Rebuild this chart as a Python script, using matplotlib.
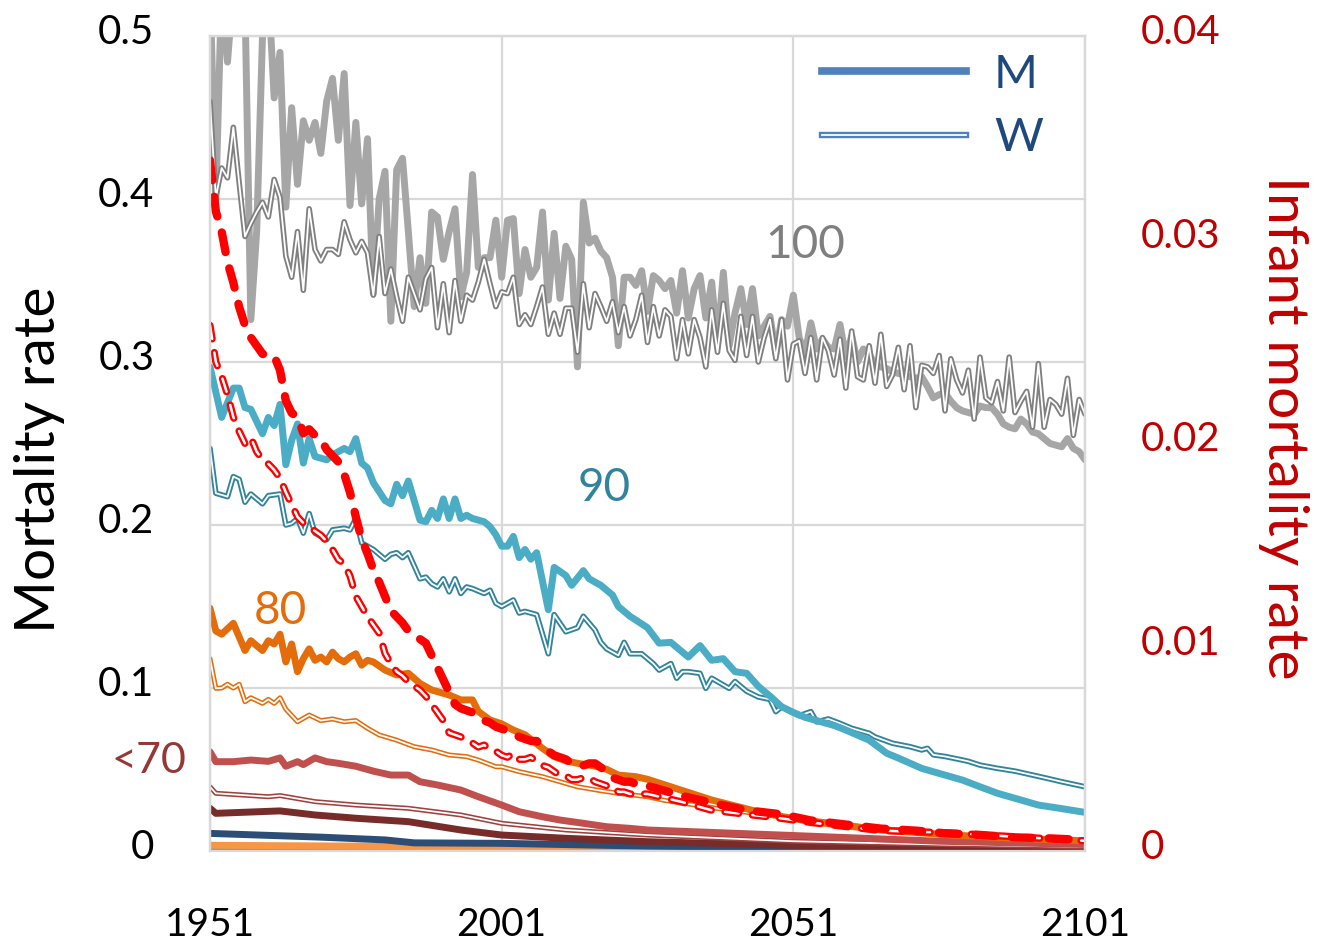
import numpy as np
import matplotlib
matplotlib.use("Agg")
import matplotlib.pyplot as plt
import matplotlib.patheffects as pe
import matplotlib.transforms as mtransforms
from matplotlib.lines import Line2D

plt.rcParams["font.family"] = ["Lato", "DejaVu Sans"]

# ---- age 100 (yearly, 1951..2101) ----
m100 = [0.53, 0.40, 0.53, 0.484, 0.53, 0.53, 0.52, 0.326, 0.38, 0.50,
        0.53, 0.462, 0.49, 0.395, 0.456, 0.409, 0.448, 0.436, 0.447, 0.428,
        0.46, 0.474, 0.436, 0.477, 0.396, 0.447, 0.397, 0.437, 0.342, 0.40,
        0.417, 0.325, 0.418, 0.425, 0.38, 0.334, 0.364, 0.336, 0.392, 0.389,
        0.363, 0.38, 0.394, 0.340, 0.355, 0.415, 0.358, 0.364, 0.364, 0.387,
        0.352, 0.387, 0.388, 0.342, 0.369, 0.352, 0.358, 0.392, 0.338, 0.379,
        0.339, 0.371, 0.363, 0.297, 0.398, 0.373, 0.376, 0.368, 0.364, 0.352,
        0.310, 0.352, 0.352, 0.347, 0.356, 0.331,
        0.353, 0.35, 0.345, 0.35, 0.33, 0.356, 0.327, 0.345, 0.353, 0.327,
        0.349, 0.311, 0.355, 0.310, 0.33, 0.345, 0.323, 0.345, 0.316, 0.322,
        0.328, 0.305, 0.326, 0.322, 0.341, 0.315, 0.305, 0.324, 0.308, 0.314,
        0.309, 0.308, 0.323, 0.303, 0.316, 0.300, 0.308, 0.305, 0.298, 0.297,
        0.296, 0.294, 0.293, 0.292, 0.291, 0.290, 0.291, 0.285, 0.278, 0.28,
        0.281, 0.276, 0.272, 0.270, 0.269, 0.268, 0.273, 0.272, 0.272, 0.268,
        0.262, 0.260, 0.259, 0.265, 0.262, 0.257, 0.256, 0.253, 0.250, 0.249,
        0.248, 0.253, 0.247, 0.245, 0.240]
w100 = [0.460, 0.401, 0.419, 0.413, 0.444, 0.41, 0.377, 0.385, 0.392, 0.398,
        0.389, 0.412, 0.401, 0.365, 0.352, 0.380, 0.344, 0.394, 0.369, 0.362,
        0.369, 0.369, 0.366, 0.386, 0.375, 0.367, 0.374, 0.367, 0.341, 0.377,
        0.342, 0.357, 0.340, 0.325, 0.352, 0.342, 0.332, 0.351, 0.358, 0.321,
        0.348, 0.318, 0.350, 0.325, 0.341, 0.338, 0.349, 0.363, 0.348, 0.334,
        0.343, 0.342, 0.352, 0.323, 0.329, 0.323, 0.334, 0.346, 0.317, 0.330,
        0.317, 0.333, 0.333, 0.306, 0.348, 0.321, 0.342, 0.334, 0.325, 0.337,
        0.318, 0.334, 0.316, 0.326, 0.341, 0.312,
        0.334, 0.316, 0.332, 0.328, 0.302, 0.326, 0.305, 0.326, 0.315, 0.297,
        0.332, 0.306, 0.336, 0.307, 0.301, 0.328, 0.304, 0.328, 0.300, 0.315,
        0.326, 0.302, 0.326, 0.289, 0.311, 0.313, 0.293, 0.315, 0.289, 0.315,
        0.307, 0.292, 0.314, 0.284, 0.319, 0.291, 0.289, 0.310, 0.287, 0.317,
        0.285, 0.292, 0.309, 0.283, 0.310, 0.272, 0.298, 0.297, 0.293, 0.304,
        0.270, 0.302, 0.289, 0.281, 0.295, 0.265, 0.303, 0.278, 0.275, 0.288,
        0.270, 0.303, 0.269, 0.276, 0.282, 0.260, 0.299, 0.260, 0.277, 0.274,
        0.268, 0.290, 0.255, 0.277, 0.268]

# ---- age 90 ----
m90_years = [1951, 1953, 1954, 1955, 1956, 1957, 1958, 1960, 1961, 1962, 1963, 1964, 1965,
             1966, 1967, 1968, 1969, 1971, 1972, 1974, 1975, 1976, 1977, 1978, 1979, 1981,
             1982, 1983, 1984, 1985, 1987, 1988, 1989, 1990, 1991, 1992, 1993, 1994, 1995,
             1996, 1998, 1999, 2000, 2001, 2002, 2003, 2004, 2005, 2006, 2007, 2009, 2010,
             2012, 2013, 2015, 2016, 2018, 2020, 2021, 2023, 2026, 2028, 2030, 2032, 2033,
             2035, 2037, 2039, 2041, 2043, 2045, 2047, 2049, 2051, 2053, 2056, 2058, 2060,
             2064, 2067, 2069, 2073, 2076, 2080, 2083, 2086, 2090, 2093, 2097, 2101]
m90 = [0.297, 0.266, 0.275, 0.284, 0.284, 0.272, 0.271, 0.256, 0.266, 0.261, 0.274, 0.237, 0.252,
       0.262, 0.238, 0.253, 0.242, 0.240, 0.243, 0.247, 0.245, 0.253, 0.238, 0.235, 0.226, 0.215,
       0.213, 0.225, 0.218, 0.227, 0.203, 0.202, 0.209, 0.204, 0.216, 0.204, 0.216, 0.204, 0.206,
       0.204, 0.202, 0.199, 0.194, 0.187, 0.187, 0.193, 0.180, 0.185, 0.179, 0.183, 0.148, 0.174,
       0.169, 0.163, 0.172, 0.167, 0.163, 0.157, 0.150, 0.144, 0.137, 0.1275, 0.128, 0.122, 0.119,
       0.126, 0.117, 0.118, 0.110, 0.109, 0.101, 0.095, 0.0885, 0.085, 0.082, 0.079, 0.077, 0.0742,
       0.068, 0.060, 0.057, 0.0507, 0.0476, 0.0435, 0.0394, 0.0354, 0.0313, 0.0282, 0.026, 0.0237]
w90_years = [1951, 1952, 1954, 1955, 1956, 1957, 1958, 1960, 1961, 1963, 1964, 1965, 1966,
             1967, 1968, 1969, 1971, 1972, 1974, 1975, 1976, 1977, 1979, 1981, 1982, 1983,
             1984, 1985, 1987, 1988, 1989, 1990, 1991, 1992, 1993, 1994, 1995, 1996, 1998,
             1999, 2000, 2001, 2003, 2004, 2005, 2007, 2009, 2010, 2012, 2014, 2015, 2017,
             2018, 2019, 2021, 2022, 2023, 2025, 2027, 2028, 2030, 2031, 2032, 2033, 2035,
             2036, 2037, 2040, 2041, 2043, 2045, 2047, 2048, 2049, 2051, 2052, 2054, 2055,
             2057, 2059, 2061, 2064, 2065, 2068, 2071, 2073, 2074, 2075, 2077, 2080, 2081,
             2083, 2086, 2089, 2092, 2094, 2097, 2101]
w90 = [0.247, 0.2195, 0.2174, 0.2297, 0.228, 0.214, 0.219, 0.213, 0.218, 0.219, 0.200, 0.201, 0.204,
       0.195, 0.207, 0.195, 0.191, 0.197, 0.198, 0.197, 0.204, 0.189, 0.185, 0.179, 0.182, 0.183,
       0.180, 0.183, 0.167, 0.168, 0.164, 0.162, 0.167, 0.159, 0.167, 0.158, 0.162, 0.161, 0.158,
       0.160, 0.152, 0.150, 0.154, 0.146, 0.147, 0.145, 0.121, 0.145, 0.1345, 0.137, 0.144, 0.1356,
       0.128, 0.124, 0.120, 0.128, 0.121, 0.121, 0.115, 0.111, 0.115, 0.106, 0.110, 0.110, 0.109,
       0.0998, 0.106, 0.0998, 0.104, 0.098, 0.0945, 0.093, 0.0855, 0.0885, 0.0847, 0.083, 0.0855, 0.0792,
       0.081, 0.0783, 0.0753, 0.0722, 0.070, 0.0661, 0.064, 0.062, 0.063, 0.059, 0.058, 0.0558, 0.055,
       0.0527, 0.0507, 0.049, 0.0466, 0.045, 0.0425, 0.0394]

# ---- age 80 ----
m80_years = [1951, 1952, 1953, 1955, 1957, 1958, 1960, 1961, 1962, 1963, 1964, 1965, 1966,
             1967, 1968, 1969, 1970, 1971, 1972, 1973, 1974, 1975, 1976, 1977, 1978, 1979,
             1981, 1983, 1985, 1987, 1989, 1992, 1994, 1996, 1997, 1999, 2001, 2003, 2005,
             2008, 2010, 2012, 2014, 2017, 2019, 2021, 2024, 2026, 2037, 2046, 2054, 2066,
             2078, 2089, 2101]
m80 = [0.149, 0.135, 0.133, 0.1397, 0.123, 0.129, 0.123, 0.129, 0.127, 0.133, 0.116, 0.127, 0.110,
       0.118, 0.124, 0.117, 0.119, 0.116, 0.122, 0.118, 0.116, 0.119, 0.121, 0.114, 0.117, 0.116,
       0.111, 0.108, 0.109, 0.1028, 0.0988, 0.0957, 0.0927, 0.0927, 0.0856, 0.0804, 0.078, 0.0742, 0.0713,
       0.063, 0.0579, 0.0553, 0.0538, 0.0521, 0.0501, 0.0466, 0.0456, 0.0440, 0.0313, 0.0231, 0.018, 0.0129,
       0.0098, 0.0078, 0.0063]
w80_years = [1951, 1952, 1953, 1954, 1955, 1956, 1957, 1958, 1960, 1961, 1962, 1963, 1964,
             1966, 1968, 1970, 1972, 1974, 1976, 1978, 1980, 1983, 1986, 1989, 1992, 1995,
             1997, 2000, 2001, 2004, 2008, 2011, 2014, 2018, 2021, 2026, 2029, 2040, 2052,
             2063, 2075, 2086, 2101]
w80 = [0.118, 0.0998, 0.100, 0.1023, 0.100, 0.1023, 0.0916, 0.094, 0.0906, 0.093, 0.0906, 0.094, 0.087,
       0.0793, 0.0834, 0.080, 0.081, 0.0793, 0.080, 0.0753, 0.0712, 0.068, 0.0640, 0.062, 0.0589, 0.0579,
       0.0558, 0.0517, 0.0517, 0.0487, 0.0456, 0.0425, 0.0394, 0.0370, 0.0354, 0.0333, 0.031, 0.025, 0.020,
       0.0149, 0.0108, 0.0084, 0.0067]

# ---- under 70 and younger groups ----
m70_years = [1951, 1952, 1955, 1958, 1961, 1963, 1964, 1966, 1967, 1969, 1971, 1973, 1976,
             1979, 1982, 1985, 1987, 1990, 1994, 1997, 2001, 2004, 2008, 2011, 2015, 2019,
             2023, 2026, 2051, 2076, 2101]
m70 = [0.0609, 0.0548, 0.0548, 0.0558, 0.0550, 0.0571, 0.052, 0.0548, 0.053, 0.0571, 0.0548, 0.0538, 0.052,
       0.049, 0.0466, 0.0466, 0.0425, 0.0405, 0.0374, 0.0333, 0.0282, 0.0241, 0.021, 0.019, 0.017, 0.0149,
       0.0139, 0.0129, 0.0095, 0.006, 0.004]
w70_years = [1951, 1952, 1961, 1963, 1969, 1976, 1985, 1994, 2001, 2012, 2026, 2051, 2076, 2101]
w70 = [0.0394, 0.0354, 0.0333, 0.034, 0.0303, 0.0282, 0.0262, 0.0221, 0.017, 0.0129, 0.0098, 0.006, 0.004, 0.0025]
m60_years = [1951, 1952, 1963, 1969, 1976, 1985, 1994, 2001, 2012, 2026, 2051, 2076, 2101]
m60 = [0.0262, 0.0231, 0.0246, 0.0221, 0.0201, 0.018, 0.0129, 0.0098, 0.0078, 0.0057, 0.0035, 0.0022, 0.0015]
m50_years = [1951, 1970, 1981, 1986, 2001, 2026, 2051, 2101]
m50 = [0.0108, 0.0085, 0.0068, 0.005, 0.0047, 0.003, 0.002, 0.001]
m40_years = [1951, 2001, 2051, 2101]
m40 = [0.0035, 0.0025, 0.001, 0.0005]
m30 = [0.0009, 0.0006, 0.0003, 0.0002]

# ---- infant mortality (right axis) ----
inf_m_years = list(range(1951, 2027)) + [2032, 2038, 2043, 2049, 2054, 2060, 2066, 2072,
                                         2077, 2083, 2089, 2095, 2101]
inf_m = [0.0339, 0.0314, 0.0304, 0.0289, 0.0279, 0.0267, 0.0258, 0.0252, 0.0248, 0.0244,
         0.0243, 0.0243, 0.0236, 0.0221, 0.0215, 0.0213, 0.0205, 0.0207, 0.0204, 0.0202,
         0.0197, 0.0194, 0.0191, 0.0185, 0.0176, 0.0164, 0.0153, 0.0146, 0.0138, 0.0132,
         0.0125, 0.0118, 0.0115, 0.0112, 0.0108, 0.0106, 0.0104, 0.0102, 0.0096, 0.0090,
         0.0084, 0.0078, 0.0072, 0.0070, 0.0069, 0.0068, 0.0066, 0.0064, 0.0063, 0.0061,
         0.0060, 0.0059, 0.0058, 0.0056, 0.0055, 0.0054, 0.0054, 0.0051, 0.0049, 0.0047,
         0.0046, 0.0045, 0.0043, 0.0042, 0.0042, 0.0043, 0.0043, 0.0041, 0.0039, 0.0036,
         0.0035, 0.0034, 0.0034, 0.0033, 0.0033, 0.0032,
         0.0027, 0.0023, 0.0020, 0.0018, 0.0015, 0.0013, 0.0011, 0.0010, 0.00087, 0.00079,
         0.00067, 0.00062, 0.00054]
inf_w_years = list(range(1951, 2027)) + [2032, 2037, 2043, 2049, 2054, 2060, 2066, 2077, 2089, 2101]
inf_w = [0.0258, 0.0240, 0.0233, 0.0224, 0.0213, 0.0206, 0.0200, 0.0203, 0.0196, 0.0192,
         0.0190, 0.0187, 0.0183, 0.0176, 0.0170, 0.0164, 0.0161, 0.0159, 0.0157, 0.0155,
         0.0152, 0.0148, 0.0143, 0.0141, 0.0135, 0.0125, 0.0120, 0.0115, 0.0111, 0.0107,
         0.0097, 0.0092, 0.0088, 0.0086, 0.0083, 0.0081, 0.0079, 0.0076, 0.0072, 0.0068,
         0.0064, 0.0058, 0.0057, 0.0056, 0.0054, 0.0053, 0.0051, 0.0052, 0.0050, 0.0049,
         0.0047, 0.0046, 0.0048, 0.0045, 0.0045, 0.0046, 0.0044, 0.0042, 0.0041, 0.0039,
         0.0037, 0.0037, 0.0035, 0.0035, 0.0036, 0.0036, 0.0034, 0.0033, 0.0032, 0.0032,
         0.0029, 0.0029, 0.0028, 0.0028, 0.0028, 0.0028,
         0.0024, 0.0020, 0.0018, 0.0016, 0.0014, 0.0012, 0.0010, 0.0009, 0.0007, 0.0005]

years = np.arange(1951, 1951 + len(m100))


def double_line(ax, x, y, color, outer=4.0, inner=1.3, **kw):
    # women: thin double line (coloured stroke with a white core)
    ax.plot(x, y, color="white", lw=inner, solid_joinstyle="round", solid_capstyle="round",
            path_effects=[pe.Stroke(linewidth=outer, foreground=color), pe.Normal()], **kw)


fig = plt.figure(figsize=(13.18, 9.43), dpi=100)
ax = fig.add_axes([210 / 1318, 1 - 851 / 943, 875 / 1318, 815 / 943])
ax2 = ax.twinx()

thick = dict(lw=5.0, solid_joinstyle="round", solid_capstyle="round")

# small age groups near zero
ax.plot(m40_years, m30, color="#4BACC6", lw=2.5)
ax.plot(m40_years, m40, color="#F79646", **thick)
ax.plot(m50_years, m50, color="#2C4D75", **thick)
ax.plot(m60_years, m60, color="#772C2A", **thick)
double_line(ax, w70_years, w70, "#A0413D", outer=3.6)
ax.plot(m70_years, m70, color="#C0504D", **thick)
double_line(ax, w80_years, w80, "#E46C0A", outer=3.6)
ax.plot(m80_years, m80, color="#E46C0A", **thick)
double_line(ax, w90_years, w90, "#31849B")
ax.plot(m90_years, m90, color="#4BACC6", **thick)
ax.plot(years, m100, color="#A6A6A6", **thick)
double_line(ax, years, w100, "#808080")

# infant mortality on the right axis
ax2.plot(inf_w_years, inf_w, color="white", lw=1.8, dashes=(5.5, 5.5), dash_capstyle="round",
         path_effects=[pe.Stroke(linewidth=5.2, foreground="#FF0000"), pe.Normal()])
ax2.plot(inf_m_years, inf_m, color="#FF0000", lw=6.0, dashes=(2.4, 2.0), dash_capstyle="round")

ax.set_xlim(1951, 2101)
ax.set_ylim(0, 0.5)
ax2.set_ylim(0, 0.04)

ax.set_xticks([1951, 2001, 2051, 2101])
ax.set_xticklabels(["1951", "2001", "2051", "2101"])
ax.set_yticks([0, 0.1, 0.2, 0.3, 0.4, 0.5])
ax.set_yticklabels(["0", "0.1", "0.2", "0.3", "0.4", "0.5"])
ax2.set_yticks([0, 0.01, 0.02, 0.03, 0.04])
ax2.set_yticklabels(["0", "0.01", "0.02", "0.03", "0.04"])

ax.tick_params(axis="x", length=0, pad=40, labelsize=28, labelcolor="black")
ax.tick_params(axis="y", length=0, pad=40, labelsize=29, labelcolor="black")
ax2.tick_params(axis="y", length=0, pad=40, labelsize=29, labelcolor="#C00000")

# tick labels sit a little above their gridlines
lift = mtransforms.ScaledTranslation(0, 7 / 100, fig.dpi_scale_trans)
for lab in ax.get_yticklabels() + ax2.get_yticklabels():
    lab.set_transform(lab.get_transform() + lift)

ax.grid(True, color="#D9D9D9", lw=1.6)
ax.set_axisbelow(True)
for a in (ax, ax2):
    for s in a.spines.values():
        s.set_color("#D9D9D9")
        s.set_linewidth(1.6)
ax2.spines["bottom"].set_visible(False)

# group labels
ax.text(2053, 0.372, "100", color="#7F7F7F", fontsize=33, ha="center", va="center")
ax.text(2018.5, 0.223, "90", color="#31849B", fontsize=33, ha="center", va="center")
ax.text(1963, 0.147, "80", color="#E46C0A", fontsize=33, ha="center", va="center")
ax.text(1940.5, 0.055, "<70", color="#953735", fontsize=31, ha="center", va="center", clip_on=False)

fig.text(40 / 1318, 1 - 460 / 943, "Mortality rate", rotation=90, fontsize=41,
         ha="center", va="center", color="black")
fig.text(1283 / 1318, 1 - 428 / 943, "Infant mortality rate", rotation=270, fontsize=41,
         ha="center", va="center", color="#C00000")

# legend: M thick, W double
h_m = Line2D([], [], color="#4F81BD", lw=5.5)
h_w = Line2D([], [], color="white", lw=1.3,
             path_effects=[pe.Stroke(linewidth=4.6, foreground="#4F81BD"), pe.Normal()])
leg = ax2.legend([h_m, h_w], ["M", "W"], loc="upper left", bbox_to_anchor=(0.699, 0.978),
                 frameon=False, fontsize=34, handlelength=3.05, handletextpad=0.6,
                 labelspacing=0.45, borderpad=0, borderaxespad=0)
for t in leg.get_texts():
    t.set_color("#1F497D")

fig.savefig("out.png", dpi=100)
